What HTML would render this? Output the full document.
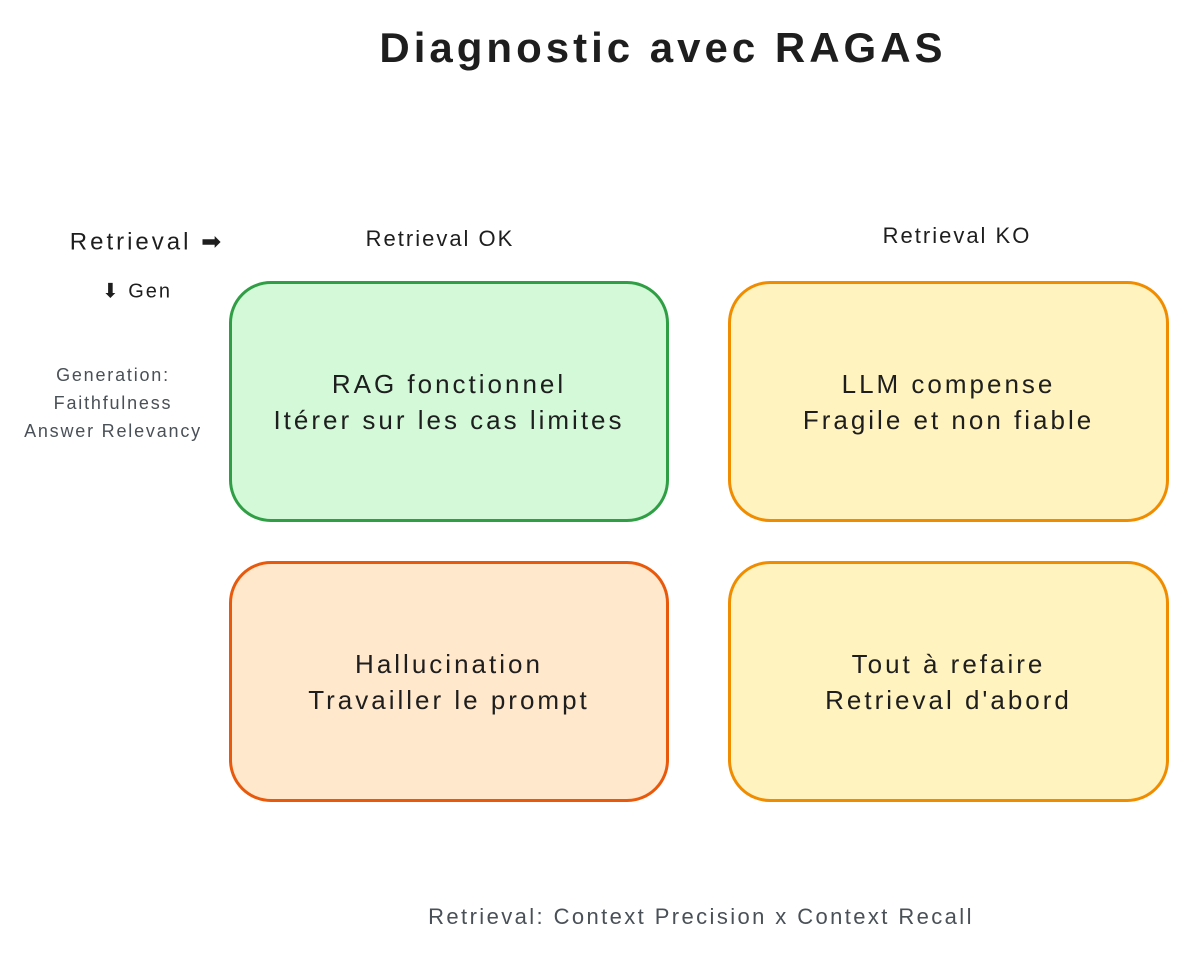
<!DOCTYPE html>
<html><head><meta charset="utf-8"><style>
body{margin:0;width:1197px;height:953px;background:#fff;position:relative;overflow:hidden;font-family:"Liberation Sans",sans-serif;color:#1e1e1e}
.t{position:absolute;white-space:nowrap;transform:translate(-50%,-50%);text-align:center}
.box{position:absolute;box-sizing:border-box;border-radius:42px;border:3px solid;display:flex;align-items:center;justify-content:center;text-align:center;font-size:26px;line-height:36px;letter-spacing:3px}
.g{color:#495057}
</style></head><body>
<div class="t" style="left:663px;top:48px;font-size:42px;font-weight:bold;letter-spacing:4px">Diagnostic avec RAGAS</div>
<div class="t" style="left:440px;top:239px;font-size:22px;letter-spacing:2px">Retrieval OK</div>
<div class="t" style="left:957px;top:236px;font-size:22px;letter-spacing:2px">Retrieval KO</div>
<div class="t" style="left:147px;top:242px;font-size:24px;letter-spacing:3px">Retrieval ➡</div>
<div class="t" style="left:137px;top:291px;font-size:20px;letter-spacing:2px">⬇ Gen</div>
<div class="t g" style="left:113px;top:403px;font-size:18px;line-height:28px;letter-spacing:1.8px">Generation:<br>Faithfulness<br>Answer Relevancy</div>
<div class="box" style="left:229px;top:281px;width:440px;height:241px;background:#d3f9d8;border-color:#2f9e44">RAG fonctionnel<br>Itérer sur les cas limites</div>
<div class="box" style="left:728px;top:281px;width:441px;height:241px;background:#fff3bf;border-color:#f08c00">LLM compense<br>Fragile et non fiable</div>
<div class="box" style="left:229px;top:561px;width:440px;height:241px;background:#ffe8cc;border-color:#e8590c">Hallucination<br>Travailler le prompt</div>
<div class="box" style="left:728px;top:561px;width:441px;height:241px;background:#fff3bf;border-color:#f08c00">Tout à refaire<br>Retrieval d'abord</div>
<div class="t g" style="left:701px;top:917px;font-size:22px;letter-spacing:2.4px">Retrieval: Context Precision x Context Recall</div>
</body></html>
